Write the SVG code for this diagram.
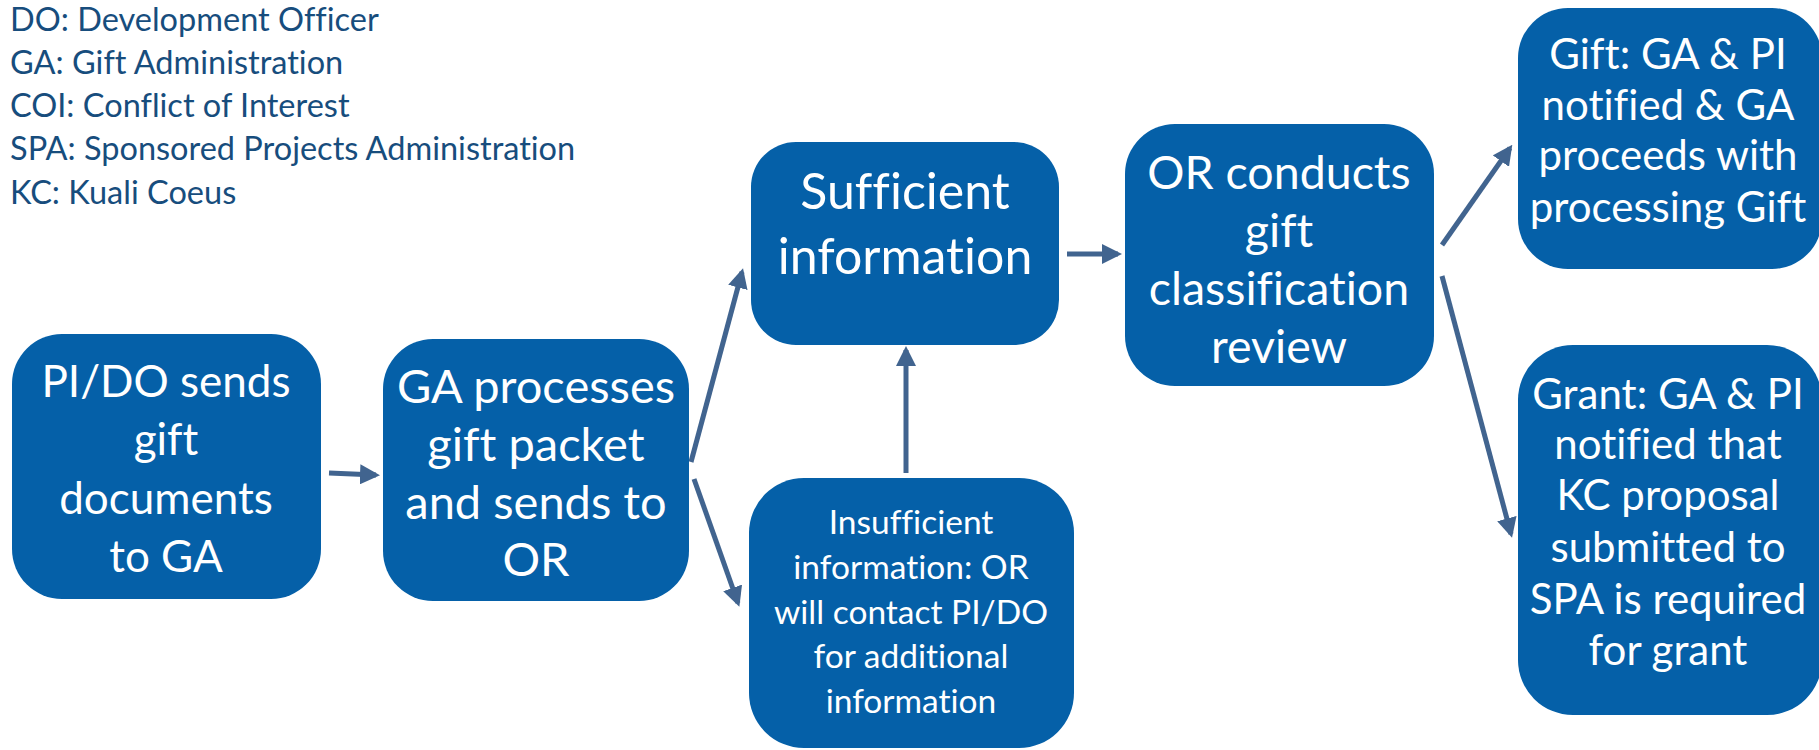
<svg xmlns="http://www.w3.org/2000/svg" width="1819" height="750" viewBox="0 0 1819 750">
<style>
.box{fill:#0560A8;}
.t{font-family:Lato,"Liberation Sans",sans-serif;fill:#ffffff;text-anchor:middle;font-variant-ligatures:none;}
.leg{font-family:Lato,"Liberation Sans",sans-serif;fill:#174D7D;font-size:32.5px;font-variant-ligatures:none;}
.c{stroke:#41648F;stroke-width:5;fill:none;marker-end:url(#ah);}
</style>
<defs>
<marker id="ah" viewBox="0 0 10 10" refX="8" refY="5" markerWidth="4" markerHeight="4" orient="auto" markerUnits="strokeWidth">
<path d="M0,0 L10,5 L0,10 z" fill="#41648F"/>
</marker>
</defs>
<g id="legend">
<text class="leg" x="10" y="31">DO: Development Officer</text>
<text class="leg" x="10" y="74">GA: Gift Administration</text>
<text class="leg" x="10" y="117">COI: Conflict of Interest</text>
<text class="leg" x="10" y="160">SPA: Sponsored Projects Administration</text>
<text class="leg" x="10" y="204">KC: Kuali Coeus</text>
</g>
<g id="connectors">
<line class="c" x1="329" y1="473" x2="376" y2="475"/>
<line class="c" x1="691" y1="462" x2="742" y2="272"/>
<line class="c" x1="694" y1="479" x2="738" y2="603"/>
<line class="c" x1="906" y1="473" x2="906" y2="350"/>
<line class="c" x1="1067" y1="254" x2="1118" y2="254"/>
<line class="c" x1="1442" y1="245" x2="1510" y2="148"/>
<line class="c" x1="1442" y1="276" x2="1511" y2="534"/>
</g>
<g id="n1">
<rect class="box" x="12" y="334" width="309" height="265" rx="50"/>
<text class="t" font-size="44"><tspan x="166" y="397">PI/DO sends</tspan><tspan x="166" y="455">gift</tspan><tspan x="166" y="514">documents</tspan><tspan x="166" y="572">to GA</tspan></text>
</g>
<g id="n2">
<rect class="box" x="383" y="339" width="306" height="262" rx="50"/>
<text class="t" font-size="47"><tspan x="536" y="403">GA processes</tspan><tspan x="536" y="461">gift packet</tspan><tspan x="536" y="519">and sends to</tspan><tspan x="536" y="576">OR</tspan></text>
</g>
<g id="n3">
<rect class="box" x="751" y="142" width="308" height="203" rx="45"/>
<text class="t" font-size="50"><tspan x="905" y="209">Sufficient</tspan><tspan x="905" y="274">information</tspan></text>
</g>
<g id="n4">
<rect class="box" x="749" y="478" width="325" height="270" rx="55"/>
<text class="t" font-size="33.5"><tspan x="911" y="534">Insufficient</tspan><tspan x="911" y="579">information: OR</tspan><tspan x="911" y="624">will contact PI/DO</tspan><tspan x="911" y="668">for additional</tspan><tspan x="911" y="713">information</tspan></text>
</g>
<g id="n5">
<rect class="box" x="1125" y="124" width="309" height="262" rx="50"/>
<text class="t" font-size="46.5"><tspan x="1279" y="189">OR conducts</tspan><tspan x="1279" y="247">gift</tspan><tspan x="1279" y="305">classification</tspan><tspan x="1279" y="363">review</tspan></text>
</g>
<g id="n6">
<rect class="box" x="1518" y="8" width="304" height="261" rx="50"/>
<text class="t" font-size="42"><tspan x="1668" y="69">Gift: GA &amp; PI</tspan><tspan x="1668" y="120">notified &amp; GA</tspan><tspan x="1668" y="170">proceeds with</tspan><tspan x="1668" y="222">processing Gift</tspan></text>
</g>
<g id="n7">
<rect class="box" x="1518" y="345" width="304" height="370" rx="55"/>
<text class="t" font-size="42"><tspan x="1668" y="409">Grant: GA &amp; PI</tspan><tspan x="1668" y="459">notified that</tspan><tspan x="1668" y="510">KC proposal</tspan><tspan x="1668" y="562">submitted to</tspan><tspan x="1668" y="614">SPA is required</tspan><tspan x="1668" y="665">for grant</tspan></text>
</g>
</svg>
